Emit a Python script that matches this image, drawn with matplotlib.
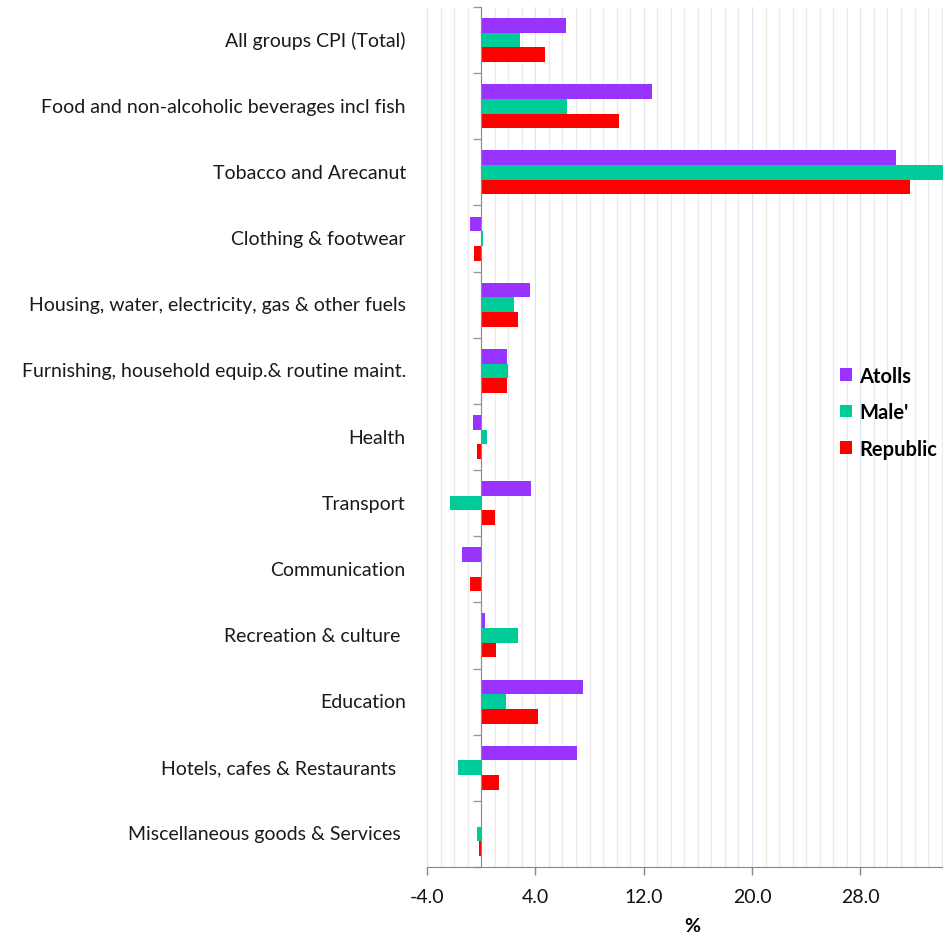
import matplotlib
matplotlib.use("Agg")
import matplotlib.pyplot as plt
import numpy as np
from matplotlib.ticker import MultipleLocator, FixedLocator
import matplotlib.transforms as mtransforms

categories = [
    "All groups CPI (Total)",
    "Food and non-alcoholic beverages incl fish",
    "Tobacco and Arecanut",
    "Clothing & footwear",
    "Housing, water, electricity, gas & other fuels",
    "Furnishing, household equip.& routine maint.",
    "Health",
    "Transport",
    "Communication",
    "Recreation & culture ",
    "Education",
    "Hotels, cafes & Restaurants  ",
    "Miscellaneous goods & Services ",
]
atolls = [6.3, 12.6, 30.6, -0.85, 3.6, 1.9, -0.6, 3.65, -1.45, 0.25, 7.5, 7.1, 0.0]
male = [2.9, 6.35, 35.0, 0.1, 2.4, 2.0, 0.4, -2.3, 0.0, 2.75, 1.85, -1.7, -0.3]
republic = [4.7, 10.2, 31.7, -0.55, 2.75, 1.9, -0.3, 1.05, -0.8, 1.1, 4.2, 1.35, -0.15]
series_names = ["Atolls", "Male'", "Republic"]
colors = ["#9933FF", "#00CC99", "#FF0000"]
xticks_major = [-4.0, 4.0, 12.0, 20.0, 28.0]

plt.rcParams['font.family'] = ['Lato', 'DejaVu Sans']

fig = plt.figure(figsize=(9.43, 9.37), dpi=100)
ax = fig.add_axes([427/943, 1-868/937, 1-427/943, (868-8)/937])

y = np.arange(len(categories))
h = 0.222
for i, (vals, name, col) in enumerate(zip([atolls, male, republic], series_names, colors)):
    ax.barh(y + (i - 1) * h, vals, height=h, color=col, label=name, zorder=3)

ax.set_xlim(-4, 34.1)
ax.set_ylim(len(categories) - 0.5, -0.5)

# gridlines
ax.xaxis.set_major_locator(FixedLocator(xticks_major))
ax.xaxis.set_minor_locator(MultipleLocator(1))
ax.grid(which='minor', axis='x', color='#EBEBEB', linewidth=0.9, zorder=0)
ax.grid(which='major', axis='x', color='#DCE5F0', linewidth=0.9, zorder=0)
ax.set_xticklabels([f"{v:.1f}" for v in xticks_major], fontsize=14)
ax.tick_params(axis='x', which='major', length=6, width=1, color='#888888', pad=9,
               labelcolor='#111111')
ax.tick_params(axis='x', which='minor', length=0)

# y axis at zero
for s in ['top', 'right']:
    ax.spines[s].set_visible(False)
ax.spines['left'].set_position(('data', 0))
ax.spines['left'].set_color('#888888')
ax.spines['bottom'].set_color('#888888')
ax.spines['left'].set_zorder(4)
ax.set_yticks(y)
ax.set_yticklabels([])
ax.tick_params(axis='y', which='major', length=0)
ax.yaxis.set_minor_locator(FixedLocator(np.arange(len(categories) + 1) - 0.5))
ax.tick_params(axis='y', which='minor', length=6, width=1, color='#999999')

trans = mtransforms.blended_transform_factory(ax.transAxes, ax.transData)
for yi, lab in zip(y, categories):
    ax.text(-0.041, yi, lab, transform=trans, ha='right', va='center', fontsize=14, color='#1a1a1a')

ax.set_xlabel('%', fontsize=14, fontweight='bold', labelpad=10)
ax.xaxis.set_label_coords(0.5136, -0.058)

leg = ax.legend(loc='upper left', bbox_to_anchor=(0.765, 0.604), frameon=False,
                prop={'weight': 'bold', 'size': 14.5}, handlelength=0.6, handleheight=0.6,
                handletextpad=0.35, labelspacing=0.82)

fig.savefig('out.png', dpi=100)
